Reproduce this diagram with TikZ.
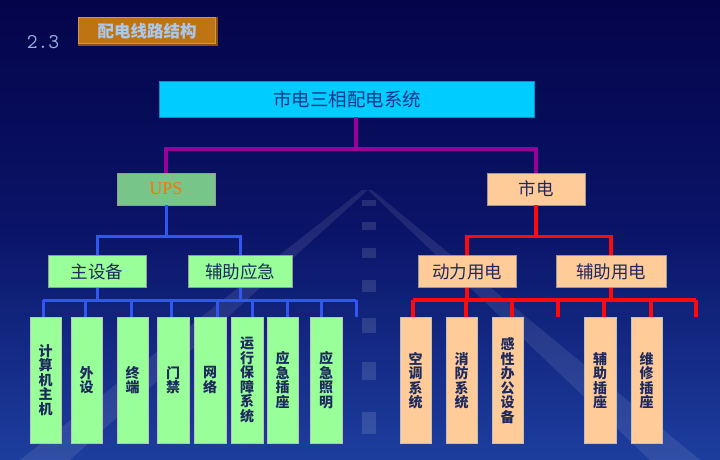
\documentclass[tikz,border=0pt]{standalone}
\usepackage{fontspec}
\newfontfamily\cjk{Noto Sans CJK SC}
\newfontfamily\timesfont{Liberation Serif}
\usetikzlibrary{positioning}
\definecolor{bgtop}{HTML}{04044A}
\definecolor{bgmid}{HTML}{0A1468}
\definecolor{bgbot}{HTML}{1D3E9E}
\definecolor{cyanbox}{HTML}{00CCFF}
\definecolor{cyanedge}{HTML}{0A8FC0}
\definecolor{upsgreen}{HTML}{78C58A}
\definecolor{leafgreen}{HTML}{99FF99}
\definecolor{peach}{HTML}{FFCC99}
\definecolor{boxtext}{HTML}{1E2A5E}
\definecolor{toptext}{HTML}{16358A}
\definecolor{purplebus}{HTML}{990099}
\definecolor{bluebus}{HTML}{3256F2}
\definecolor{redbus}{HTML}{FF0A0A}
\definecolor{titlebox}{HTML}{BF7414}
\definecolor{titletext}{HTML}{A9C8EE}
\definecolor{numtext}{HTML}{9AB0E0}
\tikzset{
  topbox/.style={fill=cyanbox, draw=cyanedge, line width=0.8pt, minimum width=375, minimum height=36, inner sep=0pt, text=toptext, font=\cjk\fontsize{18.5}{20}\selectfont},
  midbox/.style={draw=black!40, line width=0.5pt, minimum width=98, minimum height=32, inner sep=0pt, text=boxtext, font=\cjk\fontsize{17.5}{19}\selectfont},
  leafbox/.style={draw=black!25, line width=0.4pt, minimum width=31.5, minimum height=126, inner sep=0pt, align=center, text=boxtext, font=\cjk\bfseries\fontsize{14}{14.5}\selectfont},
  purpleline/.style={purplebus, line width=4pt},
  blueline/.style={bluebus, line width=3pt},
  redline/.style={redbus, line width=3.2pt}
}
\begin{document}
\begin{tikzpicture}[x=1pt, y=-1pt]
  \useasboundingbox (0,0) rectangle (720,460);
  % background and road
  \shade[top color=bgtop, bottom color=bgbot, middle color=bgmid] (0,0) rectangle (720,460);
  \fill[white, opacity=0.09] (20,460) -- (70,460) -- (368,190) -- (362,190) -- cycle;
  \fill[white, opacity=0.09] (650,460) -- (700,460) -- (372,190) -- (368,190) -- cycle;
  \foreach \y/\h in {200/6, 222/8, 248/10, 280/12, 318/15, 362/18, 412/22} \fill[white, opacity=0.12] (362,\y) rectangle (376,\y+\h);
  % heading
  \node[text=numtext, font=\ttfamily\fontsize{21}{23}\selectfont] (num) at (43,42) {2.3};
  \fill[titlebox!70!black] (78,17) rectangle (218,46);
  \fill[titlebox!75!white] (78,17) rectangle (216,44);
  \node[fill=titlebox, minimum width=136, minimum height=25, inner sep=0pt, text=titletext, font=\cjk\bfseries\fontsize{16.5}{18}\selectfont] (title) at (147,31) {配电线路结构};
  % top levels
  \node[topbox] (top) at (347,99) {市电三相配电系统};
  \node[midbox, fill=upsgreen, text=orange!90!red, font=\timesfont\fontsize{18}{20}\selectfont] (ups) at (166,189) {UPS};
  \node[midbox, fill=peach] (mains) at (536,189) {市电};
  \node[midbox, fill=leafgreen] (zhu) at (97,271.5) {主设备};
  \node[midbox, fill=leafgreen, minimum width=104] (fuz) at (240,271.5) {辅助应急};
  \node[midbox, fill=peach] (dongli) at (467,271.5) {动力用电};
  \node[midbox, fill=peach, minimum width=110] (fuzhu) at (611,271.5) {辅助用电};
  % leaves
  \foreach \n/\x/\t in {l1/45.5/{计\\算\\机\\主\\机}, l2/86.5/{外\\设}, l3/132.5/{终\\端},
      l4/173/{门\\禁}, l5/210/{网\\络}, l6/247/{运\\行\\保\\障\\系\\统},
      l7/282.5/{应\\急\\插\\座}, l8/326/{应\\急\\照\\明}}
    \node[leafbox, fill=leafgreen] (\n) at (\x,380) {\t};
  \foreach \n/\x/\t in {r1/415.5/{空\\调\\系\\统}, r2/461.5/{消\\防\\系\\统},
      r3/507.5/{感\\性\\办\\公\\设\\备}, r4/600/{辅\\助\\插\\座}, r5/646.5/{维\\修\\插\\座}}
    \node[leafbox, fill=peach] (\n) at (\x,380.5) {\t};
  % connectors
  \draw[purpleline] ([xshift=9pt]top.south) -- ++(0,32);
  \draw[purpleline] (ups.north) -- ++(0,-24) -| (mains.north);
  \draw[blueline] (ups.south) -- ++(0,32);
  \draw[blueline] (zhu.north) -- ++(0,-19) -| (fuz.north);
  \draw[redline] (mains.south) -- ++(0,32);
  \draw[redline] (dongli.north) -- ++(0,-19) -| (fuzhu.north);
  \coordinate (lbusL) at (43,300);
  \coordinate (lbusR) at (356,300);
  \coordinate (rbusL) at (413,300);
  \coordinate (rbusR) at (696,300);
  \draw[blueline] (lbusL) -- (lbusR);
  \draw[blueline] (zhu.south) -- (zhu.south |- lbusL);
  \draw[blueline] (fuz.south) -- (fuz.south |- lbusL);
  \foreach \x in {43,85,131,171,217,252,287,321,356}
    \draw[blueline] (\x,0 |- lbusL) -- ++(0,17);
  \draw[redline] (rbusL) -- (rbusR);
  \draw[redline] (dongli.south) -- (dongli.south |- rbusL);
  \draw[redline] (fuzhu.south) -- (fuzhu.south |- rbusL);
  \foreach \x in {413,466,512,558,604,651,696}
    \draw[redline] (\x,0 |- rbusL) -- ++(0,17);
\end{tikzpicture}
\end{document}
